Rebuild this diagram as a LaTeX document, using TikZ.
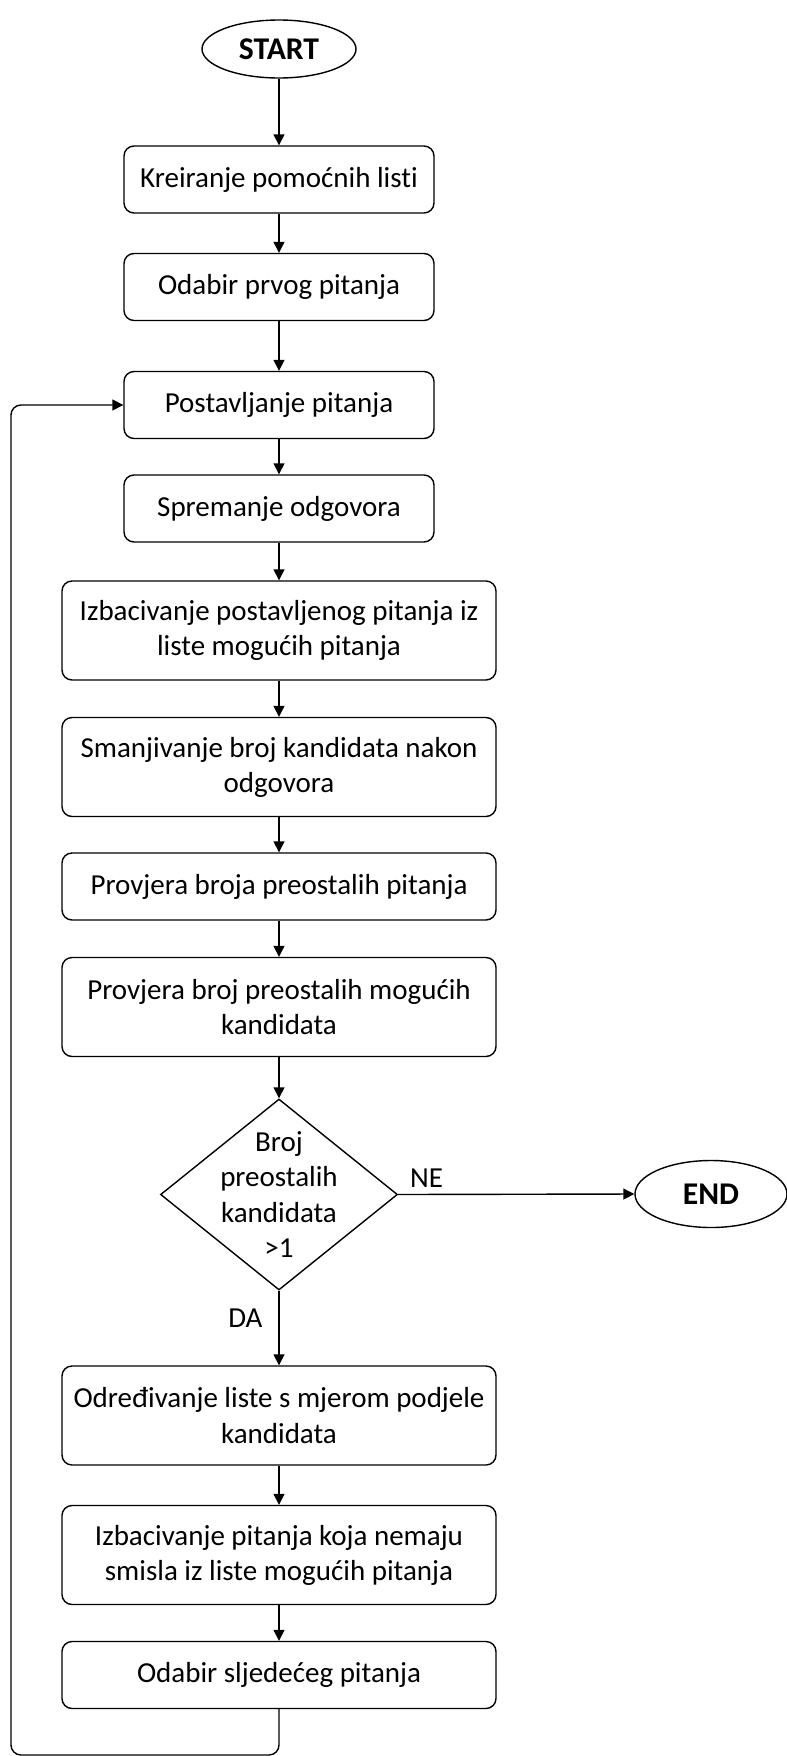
\documentclass[tikz,border=0pt]{standalone}
\usepackage{fontspec}
\setmainfont{Carlito}[Ligatures=NoCommon]
\usetikzlibrary{shapes.geometric,arrows.meta}
\begin{document}
\begin{tikzpicture}[
  box/.style={draw, line width=0.8pt, rounded corners=0.2cm, minimum width=6.2cm, minimum height=1.34cm, align=center, font=\fontsize{16.5}{20}\selectfont},
  widebox/.style={box, minimum width=8.68cm, minimum height=1.98cm},
  term/.style={draw, ellipse, line width=0.8pt, inner sep=0pt, font=\fontsize{18}{22}\selectfont\bfseries},
  decision/.style={draw, diamond, line width=0.8pt, inner sep=0pt, minimum width=4.74cm, minimum height=3.82cm},
  lbl/.style={font=\fontsize{16.5}{20}\selectfont},
  flow/.style={line width=0.8pt, -{Triangle[length=0.22cm,width=0.22cm]}}
]
\useasboundingbox (0,0) rectangle (15.74,-35.12);
\node[term, minimum width=3.08cm, minimum height=1.16cm] (start) at (5.58,-0.98) {START};
\node[box] (b1) at (5.58,-3.59) {Kreiranje pomoćnih listi};
\node[box] (b2) at (5.58,-5.74) {Odabir prvog pitanja};
\node[box] (b3) at (5.58,-8.10) {Postavljanje pitanja};
\node[box] (b4) at (5.58,-10.17) {Spremanje odgovora};
\node[widebox] (b5) at (5.58,-12.61) {Izbacivanje postavljenog pitanja iz\\liste mogućih pitanja};
\node[widebox] (b6) at (5.58,-15.34) {Smanjivanje broj kandidata nakon\\odgovora};
\node[widebox, minimum height=1.34cm] (b7) at (5.58,-17.73) {Provjera broja preostalih pitanja};
\node[widebox] (b8) at (5.58,-20.14) {Provjera broj preostalih mogućih\\kandidata};
\node[decision, label={[lbl, align=center]center:Broj\\preostalih\\kandidata\\>1}] (dec) at (5.58,-23.89) {};
\node[term, minimum width=3.04cm, minimum height=1.34cm] (end) at (14.22,-23.88) {END};
\node[widebox] (b9) at (5.58,-28.31) {Određivanje liste s mjerom podjele\\kandidata};
\node[widebox] (b10) at (5.58,-31.10) {Izbacivanje pitanja koja nemaju\\smisla iz liste mogućih pitanja};
\node[widebox, minimum height=1.34cm] (b11) at (5.58,-33.50) {Odabir sljedećeg pitanja};
\coordinate (loopbl) at (0.22,-35.10);
% main chain
\draw[flow] (start) -- (b1);
\draw[flow] (b1) -- (b2);
\draw[flow] (b2) -- (b3);
\draw[flow] (b3) -- (b4);
\draw[flow] (b4) -- (b5);
\draw[flow] (b5) -- (b6);
\draw[flow] (b6) -- (b7);
\draw[flow] (b7) -- (b8);
\draw[flow] (b8) -- (dec);
\draw[flow] (dec.east) -- node[lbl, above, pos=0.12] {NE} (end.west);
\draw[flow] (dec.south) -- node[lbl, left, pos=0.37, xshift=-0.2cm] {DA} (b9.north);
\draw[flow] (b9) -- (b10);
\draw[flow] (b10) -- (b11);
% back to the question
\draw[flow, rounded corners=0.2cm] (b11.south) |- (loopbl) |- (b3.west);
\end{tikzpicture}
\end{document}
